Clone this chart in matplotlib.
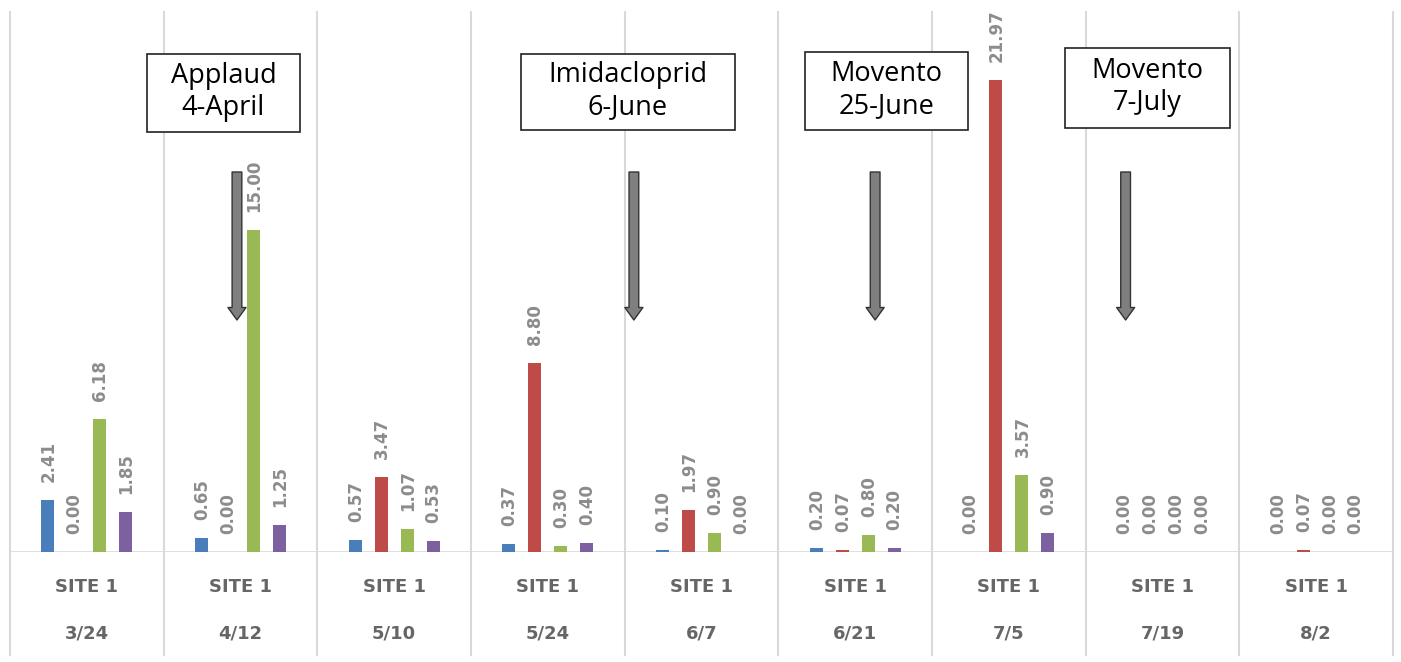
import matplotlib
matplotlib.use("Agg")
import matplotlib.pyplot as plt
from matplotlib.patches import Rectangle
import numpy as np

dates = ["3/24", "4/12", "5/10", "5/24", "6/7", "6/21", "7/5", "7/19", "8/2"]
site_labels = ["SITE 1"] * 9
series_blue = [2.41, 0.65, 0.57, 0.37, 0.10, 0.20, 0.00, 0.00, 0.00]
series_red = [0.00, 0.00, 3.47, 8.80, 1.97, 0.07, 21.97, 0.00, 0.07]
series_green = [6.18, 15.00, 1.07, 0.30, 0.90, 0.80, 3.57, 0.00, 0.00]
series_purple = [1.85, 1.25, 0.53, 0.40, 0.00, 0.20, 0.90, 0.00, 0.00]
colors = ["#4A7EBB", "#BE4B48", "#98B954", "#7D60A0"]

treat_text = ["Applaud\n4-April", "Imidacloprid\n6-June", "Movento\n25-June", "Movento\n7-July"]
treat_x = [0.977, 3.56, 5.13, 6.76]  # arrow positions along category axis

W, H = 1401, 662
fig = plt.figure(figsize=(W / 100, H / 100), dpi=100)
left, right, top, base = 10, 1393, 12, 552
ax = fig.add_axes([left / W, 1 - base / H, (right - left) / W, (base - top) / H])
pix_per_unit = 21.5
ymax = (base - top) / pix_per_unit
ax.set_xlim(-0.5, 8.5)
ax.set_ylim(0, ymax)
ax.axis("off")

x = np.arange(len(dates))
width = 0.085
step = 0.169
offsets = [-1.5 * step, -0.5 * step, 0.5 * step, 1.5 * step]
all_series = [series_blue, series_red, series_green, series_purple]
for s, c, off in zip(all_series, colors, offsets):
    ax.bar(x + off, s, width=width, color=c, zorder=3)
    for xi, v in zip(x, s):
        ax.text(xi + off + 0.004, v + 18 / pix_per_unit, f"{v:.2f}", rotation=90,
                ha="center", va="bottom", fontsize=12, fontweight="bold",
                color="#8C8C8C", family="DejaVu Sans", zorder=4)

# gridlines / separators
line_c = "#D9D9D9"
ax.axhline(0, color=line_c, lw=1.2, zorder=2)
bottom_ext = -(655 - base) / (base - top)
for b in np.arange(-0.5, 9.0, 1.0):
    ax.plot([b, b], [bottom_ext, 1.0], transform=ax.get_xaxis_transform(),
            color=line_c, lw=1.5, clip_on=False, zorder=1)

# category labels
for xi, s, d in zip(x, site_labels, dates):
    ax.text(xi, -(587 - base) / pix_per_unit, s, ha="center", va="center",
            fontsize=13, fontweight="bold", color="#666666", family="DejaVu Sans",
            clip_on=False)
    ax.text(xi, -(633 - base) / pix_per_unit, d, ha="center", va="center",
            fontsize=13, fontweight="bold", color="#666666", family="DejaVu Sans",
            clip_on=False)

# treatment boxes (pixel geometry converted to data coords)
boxes_px = [(147, 54, 300, 132), (521, 54, 735, 130), (805, 52, 968, 130), (1065, 48, 1230, 128)]
def px2data(px, py):
    return (px - left) / ((right - left) / 9) - 0.5, (base - py) / pix_per_unit
for (x0, y0, x1, y1), t in zip(boxes_px, treat_text):
    dx0, dy1 = px2data(x0, y0)
    dx1, dy0 = px2data(x1, y1)
    ax.add_patch(Rectangle((dx0, dy0), dx1 - dx0, dy1 - dy0, fill=True, facecolor="white",
                           edgecolor="#222222", lw=1.2, zorder=5))
    ax.text((dx0 + dx1) / 2, (dy0 + dy1) / 2 + 0.05, t, ha="center", va="center",
            fontsize=19.5, color="black", family="Open Sans", linespacing=1.2, zorder=6)

# arrows
y_start = (base - 172) / pix_per_unit
y_end = (base - 320) / pix_per_unit
for ax_x in treat_x:
    ax.annotate("", xy=(ax_x, y_end), xytext=(ax_x, y_start),
                arrowprops=dict(arrowstyle="simple,head_length=0.9,head_width=1.3,tail_width=0.7",
                                fc="#7F7F7F", ec="#333333", lw=1.0, shrinkA=0, shrinkB=0),
                zorder=6)

fig.savefig("out.png", dpi=100, facecolor="white")
